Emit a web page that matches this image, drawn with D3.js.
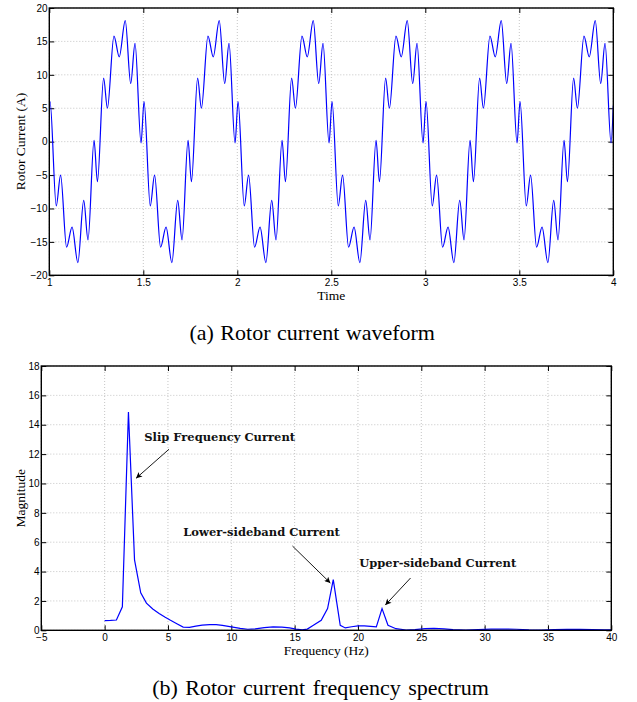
<!DOCTYPE html>
<html><head><meta charset="utf-8">
<script src="https://cdn.jsdelivr.net/npm/d3@7"></script>
<style>
html,body{margin:0;padding:0;background:#fff;}
svg{display:block;}
</style></head><body>
<svg id="chart" width="637" height="702"></svg>
<script>
// ---------------- data: (a) rotor current waveform ----------------
const timeTicks = [1, 1.5, 2, 2.5, 3, 3.5, 4];
const currentTicks = [-20, -15, -10, -5, 0, 5, 10, 15, 20];
// local extrema (time in s)
const timePoints = [
  1.000,1.004,1.037,1.060,1.092,1.121,1.152,1.183,1.206,1.238,1.256,1.289,1.309,1.344,1.372,1.404,1.433,1.456,1.488,
  1.504,1.537,1.560,1.592,1.621,1.652,1.683,1.706,1.738,1.756,1.789,1.809,1.844,1.872,1.904,1.933,1.956,1.988,
  2.004,2.037,2.060,2.092,2.121,2.152,2.183,2.206,2.238,2.256,2.289,2.309,2.344,2.372,2.404,2.433,2.456,2.488,
  2.504,2.537,2.560,2.592,2.621,2.652,2.683,2.706,2.738,2.756,2.789,2.809,2.844,2.872,2.904,2.933,2.956,2.988,
  3.004,3.037,3.060,3.092,3.121,3.152,3.183,3.206,3.238,3.256,3.289,3.309,3.344,3.372,3.404,3.433,3.456,3.488,
  3.504,3.537,3.560,3.592,3.621,3.652,3.683,3.706,3.738,3.756,3.789,3.809,3.844,3.872,3.904,3.933,3.956,3.988,
  4.000
];
const currentValues = [
  5.6, 6.0,-9.6,-5.0,-15.8,-12.8,-18.1,-8.8,-14.7,0.2,-6.0,9.5,5.0,15.8,12.7,18.1,8.7,14.7,-0.2,
  6.0,-9.6,-5.0,-15.8,-12.8,-18.1,-8.8,-14.7,0.2,-6.0,9.5,5.0,15.8,12.7,18.1,8.7,14.7,-0.2,
  6.0,-9.6,-5.0,-15.8,-12.8,-18.1,-8.8,-14.7,0.2,-6.0,9.5,5.0,15.8,12.7,18.1,8.7,14.7,-0.2,
  6.0,-9.6,-5.0,-15.8,-12.8,-18.1,-8.8,-14.7,0.2,-6.0,9.5,5.0,15.8,12.7,18.1,8.7,14.7,-0.2,
  6.0,-9.6,-5.0,-15.8,-12.8,-18.1,-8.8,-14.7,0.2,-6.0,9.5,5.0,15.8,12.7,18.1,8.7,14.7,-0.2,
  6.0,-9.6,-5.0,-15.8,-12.8,-18.1,-8.8,-14.7,0.2,-6.0,9.5,5.0,15.8,12.7,18.1,8.7,14.7,-0.2,
  5.4
];

// ---------------- data: (b) rotor current spectrum ----------------
const freqTicks = [-5, 0, 5, 10, 15, 20, 25, 30, 35, 40];
const magnitudeTicks = [0, 2, 4, 6, 8, 10, 12, 14, 16, 18];
const freqPoints = [
  0, 0.47, 0.93, 1.40, 1.88, 2.36, 2.85, 3.30, 3.80, 4.30, 4.75, 5.20, 5.70, 6.20, 6.70, 7.20, 7.70,
  8.30, 8.80, 9.30, 10.0, 10.7, 11.3, 11.9, 12.6, 13.3, 14.0, 14.6, 15.1, 15.6, 16.0, 16.45, 17.1,
  17.6, 18.05, 18.6, 19.0, 19.5, 20.0, 20.5, 21.0, 21.45, 21.9, 22.37, 23.0, 23.8, 24.5, 25.3, 26.0,
  26.8, 27.5, 28.5, 29.5, 30.5, 31.5, 32.5, 33.5, 34.5, 35.5, 36.5, 37.5, 38.5, 39.5, 40.0
];
const magnitudeValues = [
  0.66, 0.67, 0.70, 1.60, 14.87, 4.80, 2.55, 1.85, 1.45, 1.15, 0.90, 0.68, 0.45, 0.22, 0.20, 0.28, 0.35,
  0.39, 0.38, 0.33, 0.23, 0.13, 0.07, 0.10, 0.18, 0.23, 0.21, 0.16, 0.08, 0.03, 0.08, 0.32, 0.68,
  1.48, 3.45, 0.34, 0.16, 0.24, 0.30, 0.30, 0.27, 0.23, 1.48, 0.34, 0.11, 0.02, 0.05, 0.11, 0.13,
  0.10, 0.04, 0.01, 0.04, 0.08, 0.09, 0.07, 0.03, 0.02, 0.05, 0.07, 0.06, 0.04, 0.03, 0.03
];
const annotationLabels = ["Slip Frequency Current", "Lower-sideband Current", "Upper-sideband Current"];

// ---------------- layout ----------------
const svg = d3.select("#chart");
const serif = "'Liberation Serif','Times New Roman',serif";
const sans = "'Liberation Sans',Arial,Helvetica,sans-serif";
const fmt = d3.format("~g");

// annotation geometry in data coordinates (text anchor, arrow tail, arrow head)
const annotationGeom = [
  {text: [3.13, 12.9], tail: [5.08, 12.33], head: [2.48, 10.35]},
  {text: [6.21, 6.42], tail: [14.83, 5.74], head: [17.82, 3.22]},
  {text: [20.1, 4.31], tail: [24.15, 3.56], head: [22.16, 1.72]}
];

svg.append("defs").append("marker")
  .attr("id", "ah").attr("viewBox", "0 0 10 10").attr("refX", 10).attr("refY", 5)
  .attr("markerUnits", "userSpaceOnUse").attr("markerWidth", 7).attr("markerHeight", 6)
  .attr("orient", "auto")
  .append("path").attr("d", "M0,0L10,5L0,10L2.5,5Z").attr("fill", "#000");

function panel(box, xDom, yDom, xTicks, yTicks, opt) {
  const x = d3.scaleLinear().domain(xDom).range([box.l, box.r]);
  const y = d3.scaleLinear().domain(yDom).range([box.b, box.t]);
  const w = box.r - box.l, h = box.b - box.t;
  const g = svg.append("g");

  // dotted grid
  const grid = g.append("g").attr("stroke", "#b8b8b8").attr("stroke-width", 0.8).attr("stroke-dasharray", "1,2");
  grid.selectAll("line.gx").data(xTicks).join("line")
    .attr("x1", d => x(d)).attr("x2", d => x(d)).attr("y1", box.t).attr("y2", box.b);
  grid.selectAll("line.gy").data(yTicks).join("line")
    .attr("x1", box.l).attr("x2", box.r).attr("y1", d => y(d)).attr("y2", d => y(d));

  // clip
  const cid = "clip" + opt.id;
  svg.select("defs").append("clipPath").attr("id", cid)
    .append("rect").attr("x", box.l).attr("y", box.t - 1).attr("width", w).attr("height", h + 1);

  // axes
  const tk = 5;
  const ax = (gen, tr) => {
    const a = g.append("g").attr("transform", tr).call(gen);
    a.select(".domain").remove();
    a.selectAll("line").attr("stroke", "#000").attr("stroke-width", 1);
    a.selectAll("text").attr("fill", "#000");
    a.attr("font-family", sans).attr("font-size", 10);
    return a;
  };
  ax(d3.axisBottom(x).tickValues(xTicks).tickSizeInner(-tk).tickSizeOuter(0).tickPadding(opt.xPad).tickFormat(fmt),
     `translate(0,${box.b})`);
  ax(d3.axisLeft(y).tickValues(yTicks).tickSizeInner(-tk).tickSizeOuter(0).tickPadding(1.8).tickFormat(fmt),
     `translate(${box.l},0)`);
  ax(d3.axisTop(x).tickValues(xTicks).tickSizeInner(-tk).tickSizeOuter(0).tickFormat(""),
     `translate(0,${box.t})`);
  ax(d3.axisRight(y).tickValues(yTicks).tickSizeInner(-tk).tickSizeOuter(0).tickFormat(""),
     `translate(${box.r},0)`);

  return {x, y, g, cid, w, h};
}

// ---------- (a) ----------
const A = panel({l: 49.3, r: 613.3, t: 8, b: 275.3}, [1, 4], [-20, 20], timeTicks, currentTicks, {id: "a", xPad: 3.4});
const wave = timePoints.map((t, i) => [t, currentValues[i]]);
A.g.append("path").datum(wave)
  .attr("clip-path", `url(#${A.cid})`)
  .attr("fill", "none").attr("stroke", "#0000ff").attr("stroke-width", 1.2)
  .attr("d", d3.line().x(d => A.x(d[0])).y(d => A.y(d[1])).curve(d3.curveMonotoneX));
A.g.append("rect").attr("x", 49.3).attr("y", 8).attr("width", A.w).attr("height", A.h)
  .attr("fill", "none").attr("stroke", "#000").attr("stroke-width", 1.4);
svg.append("text").attr("x", 331.3).attr("y", 299.5).attr("text-anchor", "middle")
  .attr("font-family", serif).attr("font-size", 13.5).text("Time");
svg.append("text").attr("transform", "translate(25,141.6) rotate(-90)").attr("text-anchor", "middle")
  .attr("font-family", serif).attr("font-size", 13.5).text("Rotor Current (A)");
svg.append("text").attr("x", 312.2).attr("y", 340).attr("text-anchor", "middle")
  .attr("font-family", serif).attr("font-size", 22).attr("word-spacing", 1).text("(a) Rotor current waveform");

// ---------- (b) ----------
const B = panel({l: 41.3, r: 611.3, t: 366, b: 630.3}, [-5, 40], [0, 18], freqTicks, magnitudeTicks, {id: "b", xPad: 3.6});
const spec = freqPoints.map((f, i) => [f, magnitudeValues[i]]);
B.g.append("path").datum(spec)
  .attr("fill", "none").attr("stroke", "#0000ff").attr("stroke-width", 1.2)
  .attr("d", d3.line().x(d => B.x(d[0])).y(d => B.y(d[1])));
B.g.append("rect").attr("x", 41.3).attr("y", 366).attr("width", B.w).attr("height", B.h)
  .attr("fill", "none").attr("stroke", "#000").attr("stroke-width", 1.4);

annotationGeom.forEach((a, i) => {
  B.g.append("line")
    .attr("x1", B.x(a.tail[0])).attr("y1", B.y(a.tail[1]))
    .attr("x2", B.x(a.head[0])).attr("y2", B.y(a.head[1]))
    .attr("stroke", "#000").attr("stroke-width", 0.9).attr("marker-end", "url(#ah)");
  B.g.append("text").attr("x", B.x(a.text[0])).attr("y", B.y(a.text[1]))
    .attr("font-family", "'DejaVu Serif',serif").attr("font-weight", "bold").attr("font-size", 11.5)
    .attr("fill", "#111").text(annotationLabels[i]);
});

svg.append("text").attr("x", 326.3).attr("y", 655).attr("text-anchor", "middle")
  .attr("font-family", serif).attr("font-size", 13.5).text("Frequency (Hz)");
svg.append("text").attr("transform", "translate(24.5,498.2) rotate(-90)").attr("text-anchor", "middle")
  .attr("font-family", serif).attr("font-size", 13.5).text("Magnitude");
svg.append("text").attr("x", 320.5).attr("y", 695).attr("text-anchor", "middle")
  .attr("font-family", serif).attr("font-size", 22).attr("word-spacing", 2).text("(b) Rotor current frequency spectrum");
</script>
</body></html>
